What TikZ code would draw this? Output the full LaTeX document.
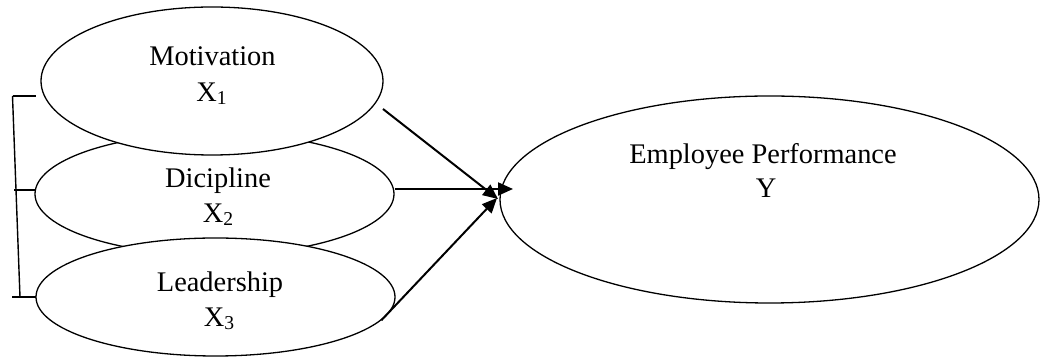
\documentclass[tikz,border=0pt]{standalone}
\usepackage{fontspec}
\setmainfont{Liberation Serif}
\usetikzlibrary{shapes.geometric,arrows.meta}
\newcommand\lowsub[1]{\raisebox{-0.1em}{\fontsize{9.8pt}{10pt}\selectfont #1}}
\begin{document}
\begin{tikzpicture}[x=0.5pt,y=-0.5pt,
  varbox/.style={ellipse,draw,fill=white,line width=0.65pt,inner sep=0pt},
  lbl/.style={anchor=base,inner sep=0pt,font=\fontsize{14.2pt}{18pt}\selectfont},
  link/.style={line width=1pt,-{Triangle[length=7.5pt,width=6.5pt]}},
  brace/.style={line width=0.7pt}]
\useasboundingbox (0,0) rectangle (1040,357);

% independent variables (the middle one sits underneath the other two)
\node[varbox,minimum width=179.5pt,minimum height=61pt] (dic) at (214.5,194) {};
\node[varbox,minimum width=171pt,minimum height=74pt] (mot) at (212,81) {};
\node[varbox,minimum width=179.5pt,minimum height=59pt] (lead) at (215.5,297) {};

% dependent variable
\node[varbox,minimum width=269.5pt,minimum height=103.5pt] (ep) at (769.5,199.5) {};

% labels
\node[lbl] (motname) at (212.5,66) {Motivation};
\node[lbl] (motsym) at (211.5,102) {X\lowsub{1}};
\node[lbl] (dicname) at (218,188) {Dicipline};
\node[lbl] (dicsym) at (218,223) {X\lowsub{2}};
\node[lbl] (leadname) at (220,292) {Leadership};
\node[lbl] (leadsym) at (219,327) {X\lowsub{3}};
\node[lbl] (epname) at (763,164) {Employee Performance};
\node[lbl] (epsym) at (766,198) {Y};

% arrows into the dependent variable
\coordinate (s1) at (383,109);
\coordinate (t1) at (498,199);
\coordinate (t2) at (513,189);
\coordinate (t3) at (497,198);
\draw[link] (s1) -- (t1);
\draw[link] (dic.east |- t2) -- (t2);
\draw[link] (lead.-8) -- (t3);

% bracket joining the three independent variables
\coordinate (b1) at (12.5,96);
\coordinate (b3) at (20,297);
\coordinate (k1) at (36,96);
\coordinate (k2l) at (14,190);
\coordinate (k2) at (36,190);
\coordinate (k3l) at (12,297);
\coordinate (k3) at (36,297);
\draw[brace] (b1) -- (b3);
\draw[brace] (b1) -- (k1);
\draw[brace] (k2l) -- (k2);
\draw[brace] (k3l) -- (k3);
\end{tikzpicture}
\end{document}
